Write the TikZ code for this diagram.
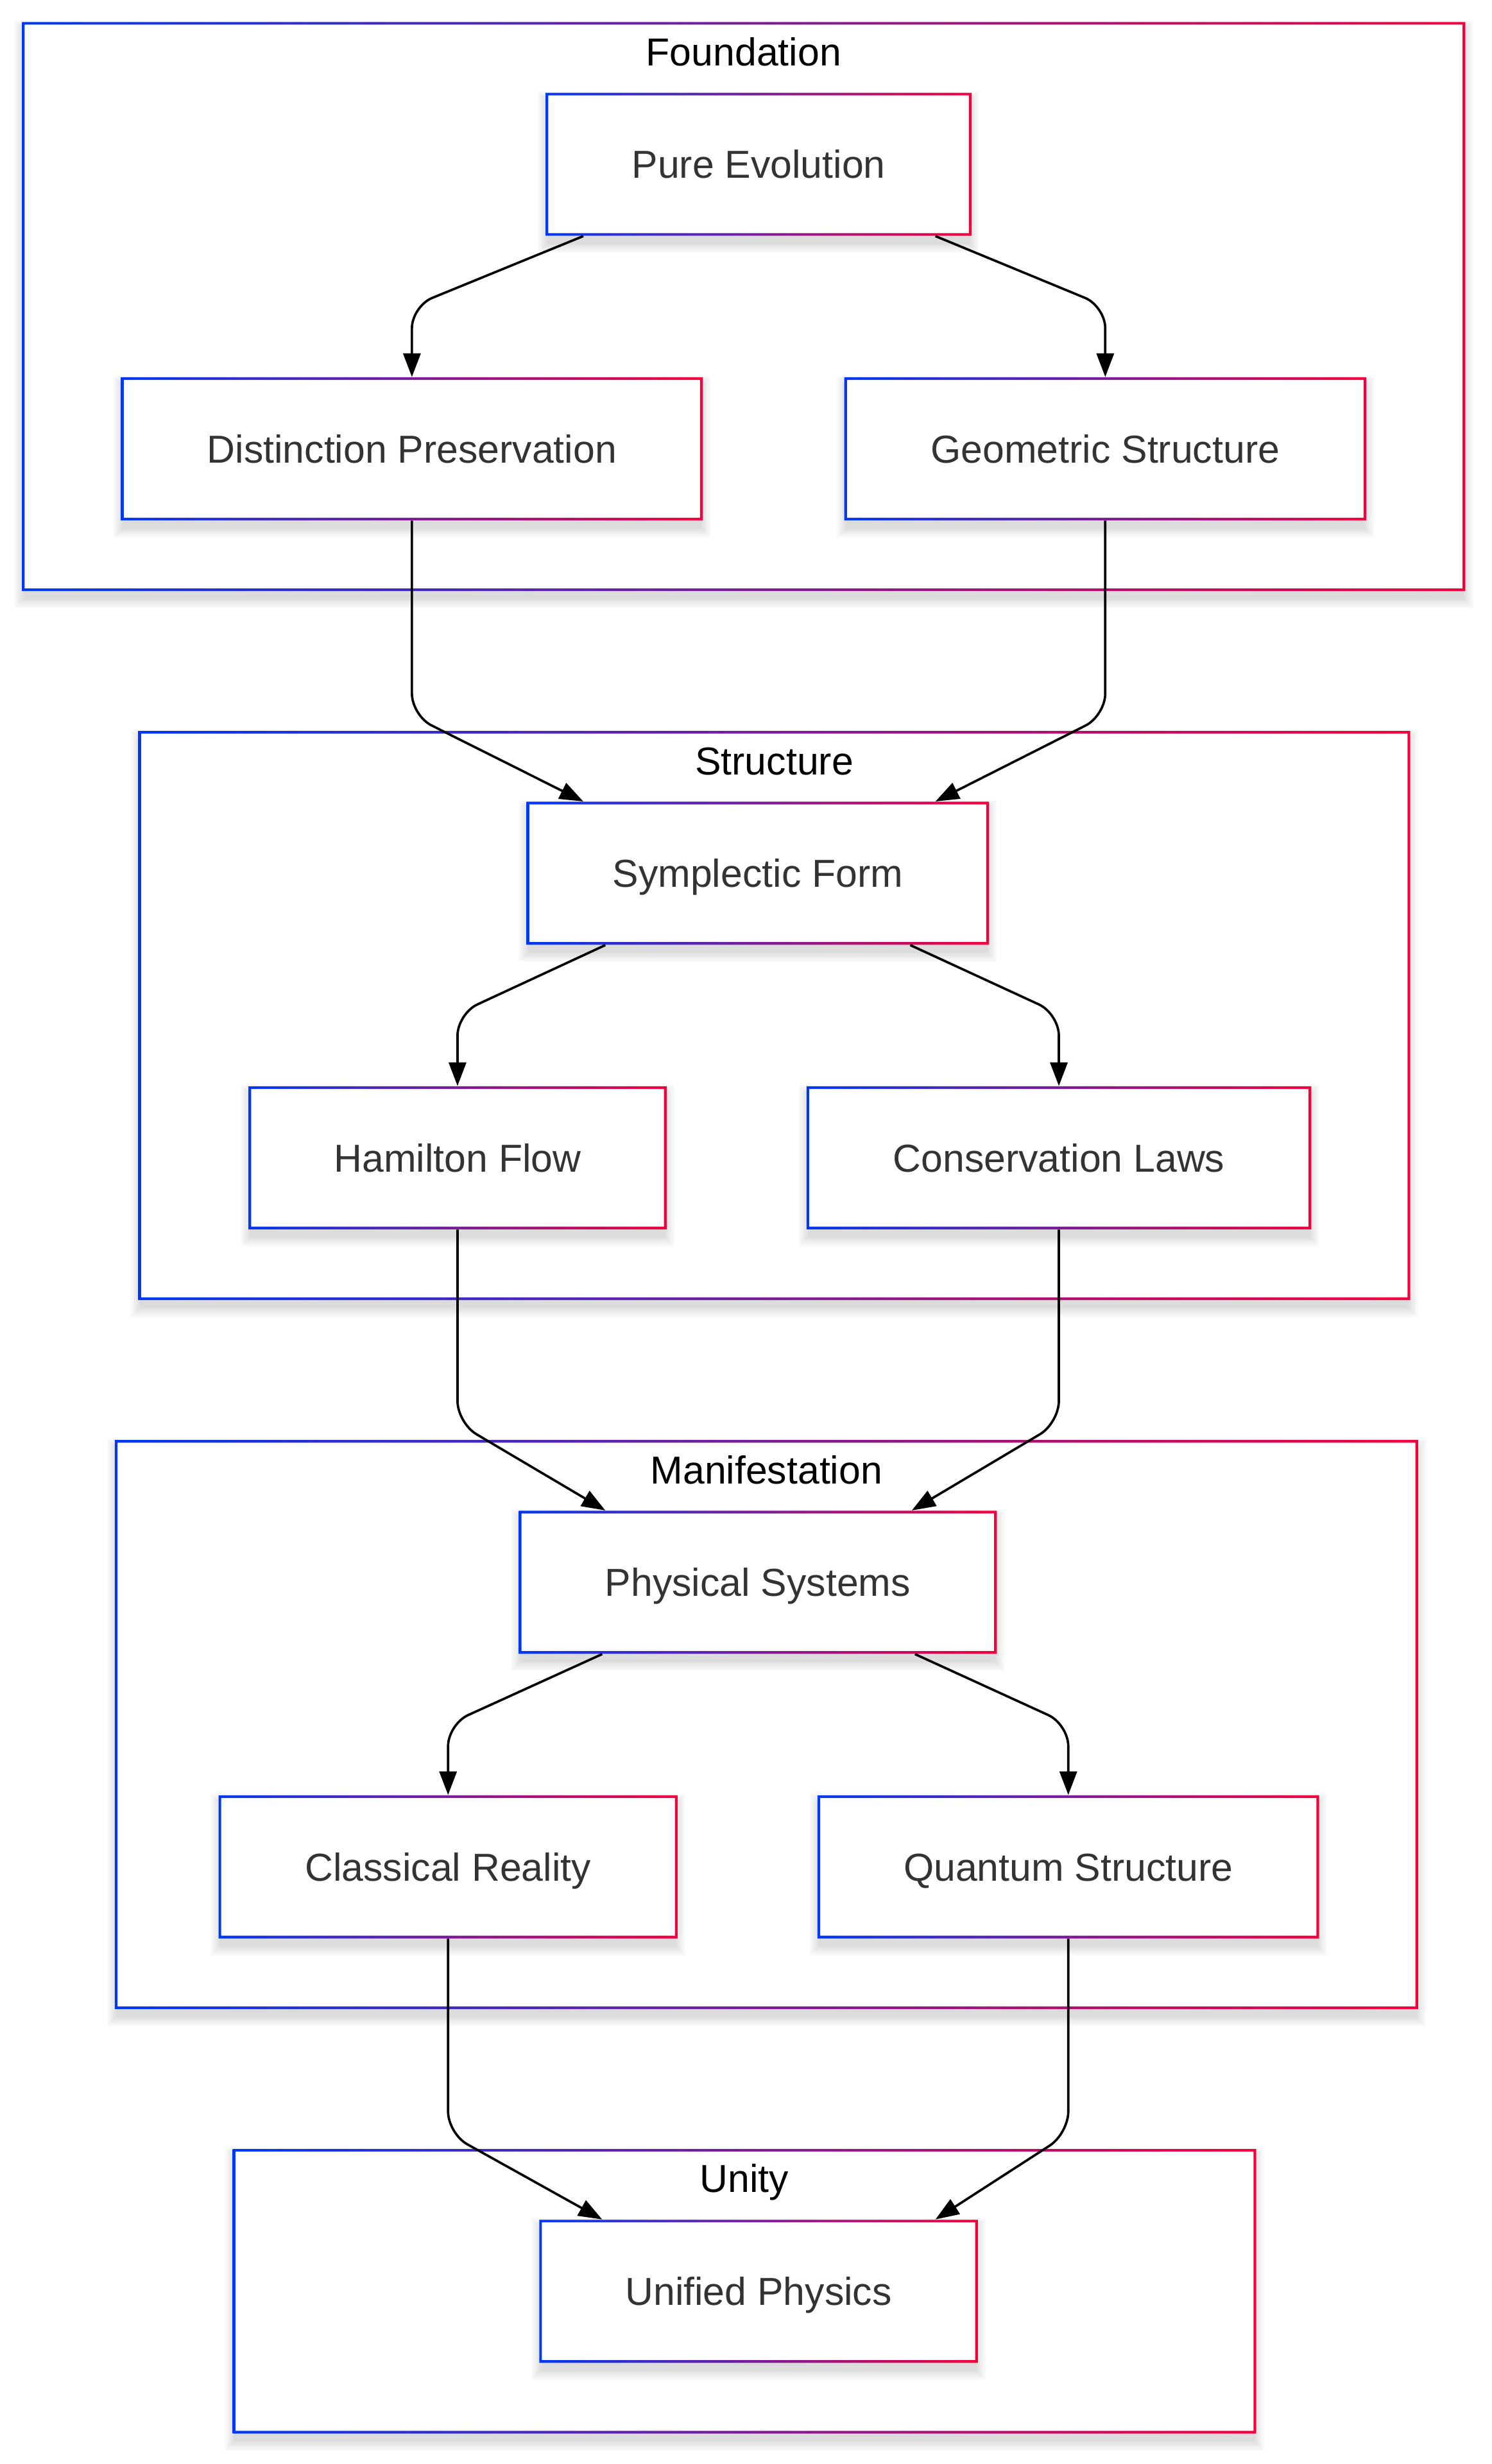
\documentclass[tikz,border=0pt]{standalone}
\usepackage{fontspec}
\setmainfont{Liberation Sans}
\usetikzlibrary{arrows.meta}
\definecolor{cblue}{HTML}{0038F5}
\definecolor{cred}{HTML}{F5003C}
\definecolor{ntext}{HTML}{333333}
\tikzset{
  box/.style={draw=none, fill=none, minimum height=91pt, inner sep=0pt, text=ntext,
    font=\fontsize{24.8}{29}\selectfont, text height=17.8pt, text depth=0pt},
  clusterbox/.style={draw=none, fill=none, inner sep=0pt},
  clab/.style={text=black, font=\fontsize{24.8}{29}\selectfont, inner sep=0pt, anchor=base},
  edge/.style={draw=black, line width=1.5pt, rounded corners=14pt, -{Triangle[length=15pt,width=11pt]}},
  shadowstep/.style={fill=black, opacity=0.02},
  ringshade/.style={left color=cblue, right color=cred, even odd rule},
}
% frame with gradient border and soft shadow: centre x, centre y, width, height
\newcommand{\gframe}[4]{%
  \pgfmathsetmacro{\xa}{#1-#3/2}\pgfmathsetmacro{\xb}{#1+#3/2}%
  \pgfmathsetmacro{\ya}{#2-#4/2}\pgfmathsetmacro{\yb}{#2+#4/2}%
  \foreach \i in {0,...,6}{\fill[shadowstep] (\xa-\i+1,\ya-\i+5) rectangle (\xb+\i-1,\yb+\i+5);}
  \fill[white] (\xa,\ya) rectangle (\xb,\yb);
  \shade[ringshade] (\xa,\ya) rectangle (\xb,\yb) (\xa+1.7,\ya+1.7) rectangle (\xb-1.7,\yb-1.7);
}
\newcommand{\gnode}[5]{% name, x, y, width, text
  \gframe{#2}{#3}{#4}{91}
  \node[box, minimum width=#4pt] (#1) at (#2,#3) {#5};
}
\newcommand{\gcluster}[6]{% name, x, y, width, height, label
  \gframe{#2}{#3}{#4}{#5}
  \node[clusterbox, minimum width=#4pt, minimum height=#5pt] (#1) at (#2,#3) {};
  \node[clab] (#1-label) at ([yshift=-27.9pt]#1.north) {#6};
}
\begin{document}
\begin{tikzpicture}[x=1pt,y=-1pt]
\fill[white] (0,0) rectangle (948.66,1567.4);
\useasboundingbox (0,0) rectangle (948.66,1567.4);
% clusters
\gcluster{cF}{473}{195}{918}{362}{Foundation}
\gcluster{cS}{492.5}{646}{809}{362}{Structure}
\gcluster{cM}{487.5}{1097}{829}{362}{Manifestation}
\gcluster{cU}{473.5}{1457.5}{651}{181}{Unity}
% nodes
\gnode{pe}{482.5}{104.5}{271}{Pure Evolution}
\gnode{dp}{262}{285.5}{370}{Distinction Preservation}
\gnode{gs}{703}{285.5}{332}{Geometric Structure}
\gnode{sf}{482}{555.5}{294}{Symplectic Form}
\gnode{hf}{291}{736.5}{266}{Hamilton Flow}
\gnode{cl}{673.5}{736.5}{321}{Conservation Laws}
\gnode{ps}{482}{1006.5}{304}{Physical Systems}
\gnode{cr}{285}{1187.5}{292}{Classical Reality}
\gnode{qs}{679.5}{1187.5}{319}{Quantum Structure}
\gnode{up}{482.5}{1457.5}{279}{Unified Physics}
% edges
\draw[edge] ([xshift=-111.5pt]pe.south) -- ([yshift=45pt]dp.north) -- (dp.north);
\draw[edge] ([xshift=112.5pt]pe.south) -- ([yshift=45pt]gs.north) -- (gs.north);
\draw[edge] (dp.south) -- ([yshift=-124pt]dp.south) -- ([xshift=-111pt]sf.north);
\draw[edge] (gs.south) -- ([yshift=-124pt]gs.south) -- ([xshift=113pt]sf.north);
\draw[edge] ([xshift=-97pt]sf.south) -- ([yshift=46pt]hf.north) -- (hf.north);
\draw[edge] ([xshift=97pt]sf.south) -- ([yshift=46pt]cl.north) -- (cl.north);
\draw[edge] (hf.south) -- ([yshift=-123pt]hf.south) -- ([xshift=-97pt]ps.north);
\draw[edge] (cl.south) -- ([yshift=-123pt]cl.south) -- ([xshift=98pt]ps.north);
\draw[edge] ([xshift=-99pt]ps.south) -- ([yshift=45pt]cr.north) -- (cr.north);
\draw[edge] ([xshift=100pt]ps.south) -- ([yshift=45pt]qs.north) -- (qs.north);
\draw[edge] (cr.south) -- ([yshift=-124pt]cr.south) -- ([xshift=-99.5pt]up.north);
\draw[edge] (qs.south) -- ([yshift=-124pt]qs.south) -- ([xshift=112.5pt]up.north);
\end{tikzpicture}
\end{document}
